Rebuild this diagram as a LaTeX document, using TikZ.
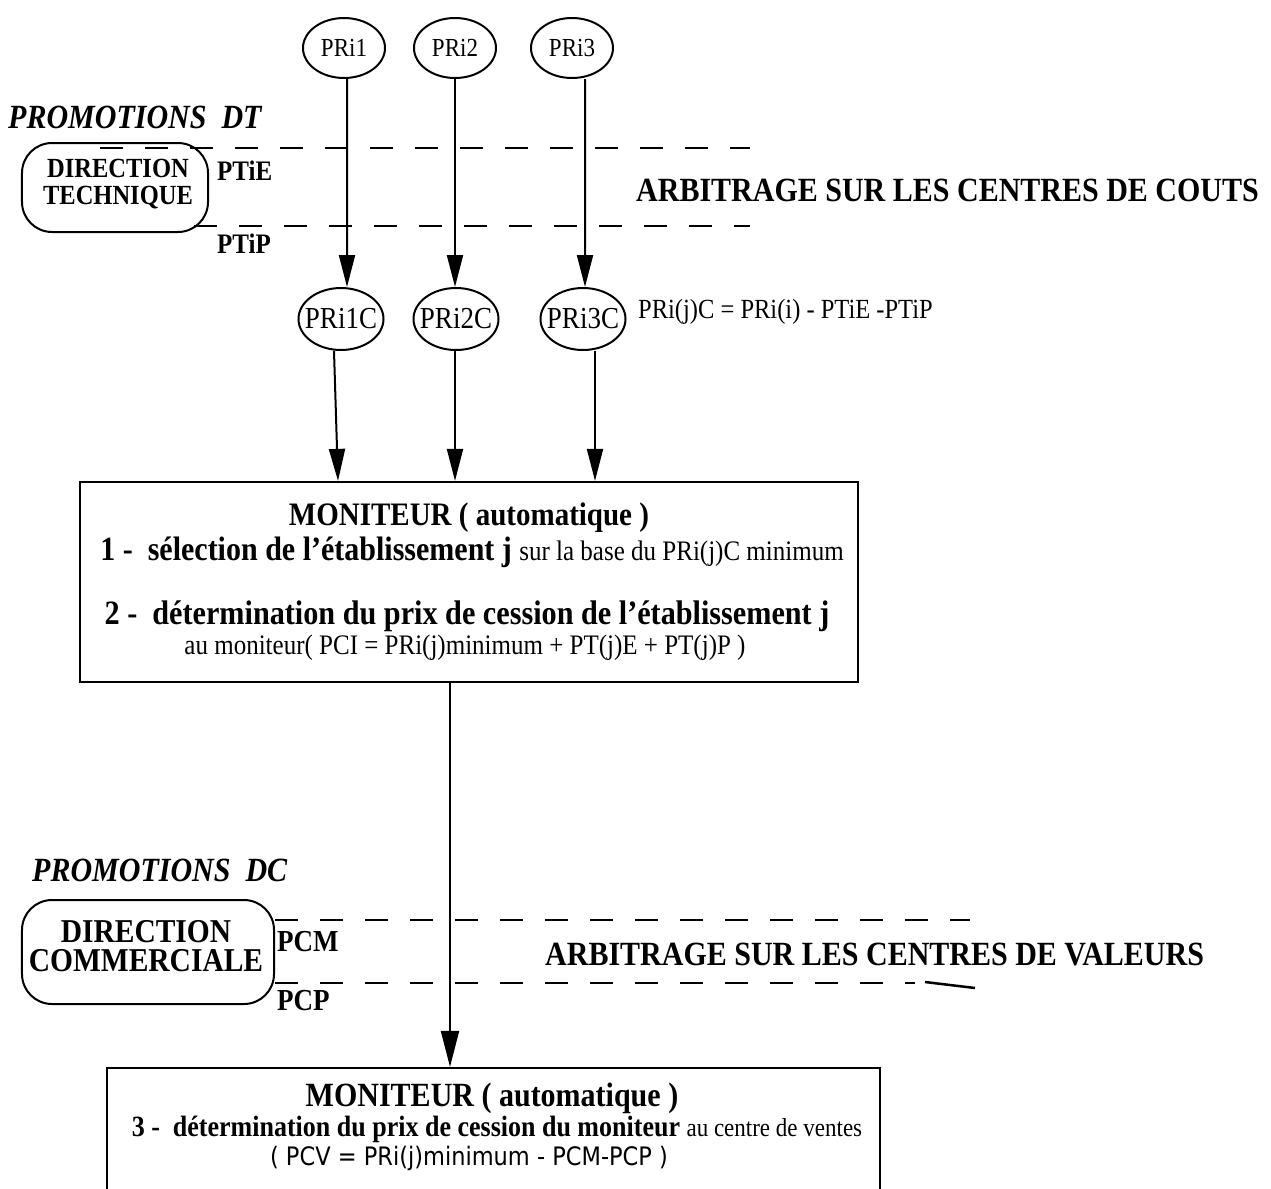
\documentclass[tikz,border=0pt]{standalone}
\usepackage{fontspec}
\setmainfont{Liberation Serif}[FakeStretch=0.885]
\newfontfamily\pcvfont{DejaVu Sans}[FakeStretch=0.885]
\usetikzlibrary{arrows.meta,shapes.geometric}

% size given as the nominal width-equivalent size; glyphs are condensed and set taller
\newcommand{\fsz}[1]{\fontsize{\the\dimexpr #1bp*113/100\relax}{\the\dimexpr #1bp*113/100\relax}\selectfont}
% label kept to a fixed box so that the ellipse keeps its size
\newcommand{\fitlbl}[1]{\makebox[56bp][c]{#1}}

\tikzset{
  prnode/.style={ellipse, draw, line width=2bp, inner sep=0pt,
                 minimum width=82bp, minimum height=60bp, font=\fsz{23}},
  prcnode/.style={ellipse, draw, line width=2bp, inner sep=0pt,
                 minimum width=85bp, minimum height=62bp, font=\fsz{27}},
  conn/.style={line width=2bp, -{Triangle[length=32bp,width=16bp]}},
  bigconn/.style={line width=2bp, -{Triangle[length=36bp,width=18bp]}},
  dirbox/.style={draw, line width=2bp, rounded corners=30bp, inner sep=0pt},
  dirtext/.style={inner sep=0pt, align=center},
  monbox/.style={draw, line width=2.2bp, rectangle, inner sep=0pt},
  dline/.style={line width=2.5bp, dash pattern=on 23bp off 22bp},
  lbl/.style={inner sep=0pt, anchor=west},
  heading/.style={inner sep=0pt, anchor=west, font=\fsz{30}\bfseries},
  promo/.style={inner sep=0pt, anchor=west, font=\fsz{30}\bfseries\itshape},
  txt/.style={inner sep=0pt},
}

\begin{document}
\begin{tikzpicture}[x=1bp,y=-1bp]
\useasboundingbox (0,0) rectangle (1271,1189);
\clip (0,0) rectangle (1271,1189);

% ---- technical direction block ----
\node[promo] (pdt) at (8,117) {PROMOTIONS\ \ DT};
\node[dirbox, minimum width=186bp, minimum height=89bp] (dt) at (115,187.5) {};
\node[dirtext, font=\fsz{24.5}\bfseries] (dttext) at (118,184) {DIRECTION\\[0bp]TECHNIQUE};
\draw[dline] (100,148) -- (750,148);
\draw[dline] ([xshift=-15bp]dt.east |- 0,226) -- (750,226);
\node[lbl, font=\fsz{25}\bfseries] (ptie) at (217,171) {PTiE};
\node[lbl, font=\fsz{25}\bfseries] (ptip) at (217,244) {PTiP};
\node[heading] (arbc) at (636,190) {ARBITRAGE SUR LES CENTRES DE COUTS};

% ---- cost prices per establishment ----
\node[prnode] (p1) at (344,48) {PRi1};
\node[prnode] (p2) at (455,48) {PRi2};
\node[prnode] (p3) at (572,48) {PRi3};

\node[prcnode] (c1) at (341,319) {\fitlbl{PRi1C}};
\node[prcnode] (c2) at (456,319) {\fitlbl{PRi2C}};
\node[prcnode] (c3) at (583,319) {\fitlbl{PRi3C}};
\node[lbl, font=\fsz{24.5}] (form) at (638,312) {PRi(j)C = PRi(i) - PTiE -PTiP};

\draw[conn] ([xshift=3bp]p1.south) -- ([xshift=6bp]c1.north);
\draw[conn] (p2.south) -- ([xshift=-1bp]c2.north);
\draw[conn] ([xshift=13bp]p3.south) -- ([xshift=2bp]c3.north);

% ---- first monitor ----
\node[monbox, minimum width=778bp, minimum height=200bp] (m1) at (469,582) {};
\node[txt, font=\fsz{29}\bfseries] (m1t) at (469,518) {MONITEUR ( automatique )};
\node[txt] (m1a) at (472,552) {{\fsz{30}\bfseries 1 -\ \ sélection de l'établissement j }{\fsz{25}sur la base du PRi(j)C minimum}};
\node[txt, font=\fsz{30.2}\bfseries] (m1b) at (467,616) {2 -\ \ détermination du prix de cession de l'établissement j};
\node[txt, font=\fsz{25}] (m1c) at (465,648) {au moniteur( PCI = PRi(j)minimum + PT(j)E + PT(j)P )};

\draw[conn] ([xshift=-7bp]c1.south) -- ([xshift=-3bp]c1.south |- m1.north);
\draw[conn] ([xshift=-1bp]c2.south) -- ([xshift=-1bp]c2.south |- m1.north);
\draw[conn] ([xshift=12bp]c3.south) -- ([xshift=12bp]c3.south |- m1.north);

% ---- commercial direction block ----
\node[promo] (pdc) at (32,870) {PROMOTIONS\ \ DC};
\node[dirbox, minimum width=252bp, minimum height=104bp] (dc) at (148,952) {};
\node[dirtext, font=\fsz{29.5}\bfseries] (dctext) at (146,946) {DIRECTION\\[-4bp]COMMERCIALE};
\draw[dline] (dc.east |- 0,920) -- (970,920);
\draw[dline] (dc.east |- 0,983) -- (915,983);
\draw[line width=2.5bp] (925,982) -- (975,988);
\node[lbl, font=\fsz{27}\bfseries] (pcm) at (277,942) {PCM};
\node[lbl, font=\fsz{27}\bfseries] (pcp) at (277,1001) {PCP};
\node[heading] (arbv) at (545,955) {ARBITRAGE SUR LES CENTRES DE VALEURS};

% ---- second monitor ----
\node[monbox, minimum width=773bp, minimum height=200bp] (m2) at (493.5,1168) {};
\node[txt, font=\fsz{30}\bfseries] (m2t) at (492,1098) {MONITEUR ( automatique )};
\node[txt] (m2a) at (497,1129) {{\fsz{26}\bfseries 3 -\ \ détermination du prix de cession du moniteur }{\fsz{23}au centre de ventes}};
\node[txt, font=\pcvfont\fsz{22.5}] (m2b) at (469,1158) {( PCV = PRi(j)minimum - PCM-PCP )};

\draw[bigconn] ([xshift=-19bp]m1.south) -- ([xshift=-19bp]m1.south |- m2.north);
\end{tikzpicture}
\end{document}
